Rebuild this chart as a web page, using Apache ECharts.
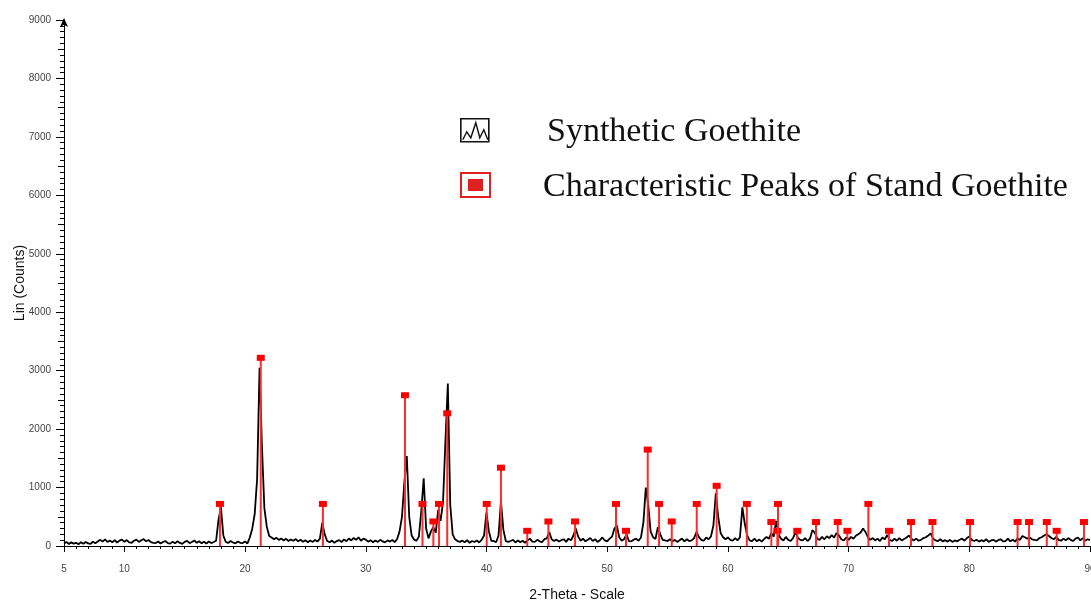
<!DOCTYPE html>
<html>
<head>
<meta charset="utf-8">
<title>XRD pattern – Synthetic Goethite</title>
<script src="https://cdn.jsdelivr.net/npm/echarts@6/dist/echarts.min.js"></script>
<style>
  html, body { margin: 0; padding: 0; background: #fff; }
  #chart { width: 1091px; height: 605px; }
</style>
</head>
<body>
<div id="chart"></div>
<script>
// Scan grid of the diffractogram (degrees 2θ)
const twoThetaStart = 5;
const twoThetaStep = 0.2;

// Measured intensity (counts), one row per degree: x.0, x.2, x.4, x.6, x.8
const counts = [
  45, 70, 35, 62, 40,        // 5
  55, 30, 64, 40, 68,        // 6
  45, 36, 72, 48, 78,        // 7
  105, 75, 115, 68, 95,      // 8
  65, 100, 60, 92, 110,      // 9
  72, 102, 62, 55, 90,       // 10
  108, 70, 98, 118, 80,      // 11
  102, 66, 55, 50, 76,       // 12
  42, 68, 86, 50, 40,        // 13
  74, 45, 82, 52, 38,        // 14
  70, 88, 50, 68, 96,        // 15
  55, 82, 46, 74, 42,        // 16
  76, 50, 68, 90, 450,       // 17
  660, 180, 70, 52, 86,      // 18
  60, 44, 78, 55, 50,        // 19
  76, 44, 150, 300, 550,     // 20
  1150, 3050, 1700, 650, 330,// 21
  170, 145, 115, 140, 105,   // 22
  130, 95, 122, 85, 112,     // 23
  90, 118, 80, 106, 72,      // 24
  98, 64, 94, 70, 102,       // 25
  75, 125, 400, 200, 85,     // 26
  65, 92, 55, 84, 100,       // 27
  68, 112, 82, 128, 95,      // 28
  138, 104, 148, 90, 126,    // 29
  110, 74, 100, 65, 94,      // 30
  70, 106, 78, 62, 96,       // 31
  75, 102, 66, 120, 250,     // 32
  500, 1100, 1540, 500, 180, // 33
  110, 90, 160, 600, 1160,   // 34
  300, 130, 250, 320, 230,   // 35
  620, 430, 750, 1800, 2780, // 36
  700, 200, 115, 85, 70,     // 37
  92, 64, 100, 55, 86,       // 38
  68, 96, 60, 105, 180,      // 39
  570, 250, 90, 86, 65,      // 40
  180, 760, 280, 85, 70,     // 41
  86, 106, 60, 96, 65,       // 42
  90, 55, 100, 125, 76,      // 43
  70, 106, 80, 66, 116,      // 44
  130, 240, 115, 85, 110,    // 45
  76, 100, 116, 70, 126,     // 46
  96, 180, 300, 160, 90,     // 47
  126, 80, 106, 136, 85,     // 48
  116, 70, 100, 146, 95,     // 49
  80, 126, 160, 300, 350,    // 50
  150, 90, 116, 200, 85,     // 51
  80, 106, 126, 90, 146,     // 52
  400, 1000, 700, 250, 150,  // 53
  120, 320, 200, 105, 95,    // 54
  85, 116, 75, 106, 70,      // 55
  100, 126, 80, 116, 85,     // 56
  96, 136, 240, 150, 105,    // 57
  90, 146, 115, 165, 350,    // 58
  900, 500, 220, 150, 115,   // 59
  146, 105, 90, 136, 95,     // 60
  150, 660, 380, 180, 96,    // 61
  85, 126, 80, 110, 76,      // 62
  116, 155, 125, 220, 160,   // 63
  430, 200, 125, 95, 155,    // 64
  105, 85, 135, 240, 140,    // 65
  105, 96, 136, 85, 126,     // 66
  270, 230, 125, 105, 156,   // 67
  115, 166, 135, 186, 145,   // 68
  220, 180, 115, 95, 146,    // 69
  105, 156, 125, 176, 200,   // 70
  230, 300, 240, 150, 105,   // 71
  136, 95, 126, 85, 146,     // 72
  115, 190, 105, 85, 126,    // 73
  90, 136, 95, 120, 146,     // 74
  180, 125, 95, 126, 90,     // 75
  105, 136, 150, 180, 215,   // 76
  126, 96, 85, 116, 80,      // 77
  100, 75, 106, 70, 96,      // 78
  80, 106, 126, 90, 136,     // 79
  160, 105, 85, 106, 75,     // 80
  100, 80, 116, 70, 96,      // 81
  106, 75, 100, 116, 80,     // 82
  85, 126, 80, 106, 75,      // 83
  130, 105, 170, 150, 126,   // 84
  146, 115, 105, 96, 136,    // 85
  150, 180, 200, 170, 136,   // 86
  115, 156, 105, 90, 126,    // 87
  96, 136, 105, 85, 126,     // 88
  146, 95, 136, 90, 116,     // 89
  100                        // 90
];

// Reference (standard goethite) line positions and heights
const refPositions = [
  17.92, 21.3, 26.45, 33.25, 34.7, 35.6, 36.07, 36.75, 40.02, 41.2,
  43.38, 45.13, 47.34, 50.73, 51.56, 53.36, 54.3, 55.35, 57.42, 59.07,
  61.57, 63.6, 64.1, 64.15, 65.75, 67.3, 69.1, 69.9, 71.64, 73.35,
  75.17, 76.95, 80.06, 84.0, 84.95, 86.42, 87.24, 89.5
];
const refHeights = [
  720, 3220, 720, 2580, 720, 420, 720, 2270, 720, 1340,
  260, 420, 420, 720, 260, 1650, 720, 420, 720, 1030,
  720, 410, 260, 720, 260, 410, 410, 260, 720, 260,
  410, 410, 410, 410, 410, 410, 260, 410
];

// Axis labels
const xLabelValues = [5, 10, 20, 30, 40, 50, 60, 70, 80, 90];
const xMinorValues = [];
for (let d = 5; d <= 90; d++) xMinorValues.push(d);

const seriesNames = ['Synthetic Goethite', 'Characteristic Peaks of Stand Goethite'];
const axisNames = { x: '2-Theta - Scale', y: 'Lin (Counts)' };

// Build [2θ, counts] pairs for the pattern
const pattern = counts.map((c, i) => [Math.round((twoThetaStart + i * twoThetaStep) * 100) / 100, c]);
const refLines = refPositions.map((p, i) => [p, refHeights[i]]);

const chart = echarts.init(document.getElementById('chart'), null, { renderer: 'canvas' });

const labelStyle = { color: '#444', fontSize: 10, fontFamily: 'Liberation Sans, Arial, sans-serif' };
const plain = v => String(v);

const option = {
  animation: false,
  backgroundColor: '#fff',
  grid: { left: 64, right: 1, top: 20, bottom: 59, outerBoundsMode: 'none', containLabel: false },
  xAxis: [
    {
      type: 'value', min: 5, max: 90,
      name: axisNames.x, nameLocation: 'middle', nameGap: 42, nameMoveOverlap: false,
      nameTextStyle: { color: '#111', fontSize: 14, fontFamily: 'Liberation Sans, Arial, sans-serif' },
      axisLine: { show: true, onZero: false, lineStyle: { color: '#000', width: 1 } },
      axisTick: { show: true, customValues: xLabelValues, length: 6, lineStyle: { color: '#000' } },
      axisLabel: Object.assign({ customValues: xLabelValues, margin: 18, showMaxLabel: true, hideOverlap: false, formatter: plain }, labelStyle),
      splitLine: { show: false }
    },
    {
      type: 'value', min: 5, max: 90, position: 'bottom',
      axisLine: { show: false },
      axisTick: { show: true, customValues: xMinorValues, length: 3, lineStyle: { color: '#000' } },
      axisLabel: { show: false },
      splitLine: { show: false }
    }
  ],
  yAxis: [
    {
      type: 'value', min: 0, max: 9000, interval: 1000,
      name: axisNames.y, nameLocation: 'middle', nameGap: 37, nameRotate: 90, nameMoveOverlap: false,
      nameTextStyle: { color: '#111', fontSize: 14, fontFamily: 'Liberation Sans, Arial, sans-serif' },
      axisLine: { show: true, onZero: false, symbol: ['none', 'arrow'], symbolSize: [6, 9], symbolOffset: [0, 2], lineStyle: { color: '#000', width: 1 } },
      axisTick: { show: true, length: 8, lineStyle: { color: '#000' } },
      minorTick: { show: true, splitNumber: 10, length: 4, lineStyle: { color: '#000' } },
      axisLabel: Object.assign({ margin: 13, formatter: plain }, labelStyle),
      splitLine: { show: false }
    },
    {
      type: 'value', min: 0, max: 9000, interval: 500, position: 'left',
      axisLine: { show: false },
      axisTick: { show: true, length: 6, lineStyle: { color: '#000' } },
      axisLabel: { show: false },
      splitLine: { show: false }
    }
  ],
  series: [
    {
      name: seriesNames[0],
      type: 'line',
      xAxisIndex: 0, yAxisIndex: 0,
      data: pattern,
      showSymbol: false,
      symbol: 'none',
      lineStyle: { color: '#000', width: 1.8 },
      z: 2
    },
    {
      name: seriesNames[1],
      type: 'custom',
      xAxisIndex: 0, yAxisIndex: 0,
      data: refLines,
      z: 3,
      renderItem: function (params, api) {
        const top = api.coord([api.value(0), api.value(1)]);
        const base = api.coord([api.value(0), 0]);
        return {
          type: 'group',
          children: [
            {
              type: 'line',
              shape: { x1: top[0], y1: top[1], x2: base[0], y2: base[1] },
              style: { stroke: '#ff2a2a', lineWidth: 2 }
            },
            {
              type: 'rect',
              shape: { x: top[0] - 4, y: top[1] - 3, width: 8, height: 6 },
              style: { fill: '#ff0000' }
            }
          ]
        };
      }
    }
  ],
  graphic: [
    // legend entry: measured pattern
    {
      type: 'group', left: 460, top: 118,
      children: [
        { type: 'rect', shape: { x: 0, y: 0, width: 28, height: 23 }, style: { fill: '#fff', stroke: '#111', lineWidth: 1.6 } },
        { type: 'polyline', shape: { points: [[2, 21], [6, 13], [10, 19], [15, 4], [19, 19], [23, 11], [27, 21]] }, style: { fill: 'none', stroke: '#111', lineWidth: 1.4 } }
      ]
    },
    {
      type: 'text', left: 547, top: 115,
      style: { text: seriesNames[0], fill: '#111', font: '34px "Liberation Serif", "Times New Roman", serif' }
    },
    // legend entry: reference lines
    {
      type: 'group', left: 460, top: 172,
      children: [
        { type: 'rect', shape: { x: 0, y: 0, width: 29, height: 24 }, style: { fill: '#fff', stroke: '#e02020', lineWidth: 2 } },
        { type: 'rect', shape: { x: 7, y: 6, width: 15, height: 12 }, style: { fill: '#e02020' } }
      ]
    },
    {
      type: 'text', left: 543, top: 170,
      style: { text: seriesNames[1], fill: '#111', font: '34px "Liberation Serif", "Times New Roman", serif' }
    }
  ]
};

chart.setOption(option);
</script>
</body>
</html>
